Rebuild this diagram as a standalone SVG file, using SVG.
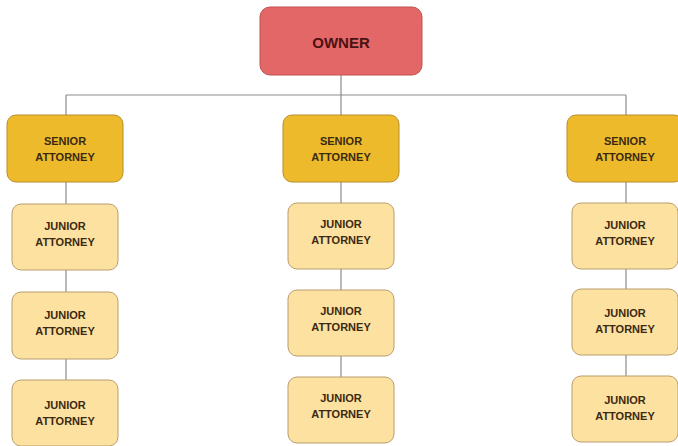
<svg xmlns="http://www.w3.org/2000/svg" width="678" height="446" viewBox="0 0 678 446">
  <style>
    .bg { fill: #ffffff; }
    .wire { stroke: #8c8c8c; stroke-width: 1.2; fill: none; }
    .owner rect { fill: #E36767; stroke: #C25050; stroke-width: 1; }
    .senior rect { fill: #EDBA2C; stroke: #B88E28; stroke-width: 1; }
    .junior rect { fill: #FDE1A0; stroke: #B89E6C; stroke-width: 1; }
    text { font-family: "Liberation Sans", Arial, sans-serif; font-weight: bold; text-anchor: middle; }
    .owner text { font-size: 15px; fill: #4A1212; }
    .senior text, .junior text { font-size: 11px; fill: #3A2A12; }
  </style>
  <rect class="bg" x="0" y="0" width="678" height="446"/>

  <g id="connectors">
    <path class="wire" d="M341,75 V95 M66,95 H626 M66,95 V115 M341,95 V115 M626,95 V115"/>
    <path class="wire" d="M66,182 V204 M66,270 V292 M66,359 V380"/>
    <path class="wire" d="M341,182 V203 M341,269 V290 M341,356 V377"/>
    <path class="wire" d="M626,182 V203 M626,269 V289 M626,355 V376"/>
  </g>

  <g id="owner" class="owner">
    <rect x="260" y="7" width="162" height="68" rx="10"/>
    <text x="341" y="48">OWNER</text>
  </g>

  <g id="senior-left" class="senior">
    <rect x="7" y="115" width="116" height="67" rx="9"/>
    <text x="65" y="145">SENIOR</text>
    <text x="65" y="161">ATTORNEY</text>
  </g>
  <g id="senior-middle" class="senior">
    <rect x="283" y="115" width="116" height="67" rx="9"/>
    <text x="341" y="145">SENIOR</text>
    <text x="341" y="161">ATTORNEY</text>
  </g>
  <g id="senior-right" class="senior">
    <rect x="567" y="115" width="116" height="67" rx="9"/>
    <text x="625" y="145">SENIOR</text>
    <text x="625" y="161">ATTORNEY</text>
  </g>

  <g id="junior-left-1" class="junior">
    <rect x="12" y="204" width="106" height="66" rx="9"/>
    <text x="65" y="230">JUNIOR</text>
    <text x="65" y="246">ATTORNEY</text>
  </g>
  <g id="junior-left-2" class="junior">
    <rect x="12" y="292" width="106" height="67" rx="9"/>
    <text x="65" y="319">JUNIOR</text>
    <text x="65" y="335">ATTORNEY</text>
  </g>
  <g id="junior-left-3" class="junior">
    <rect x="12" y="380" width="106" height="66" rx="9"/>
    <text x="65" y="409">JUNIOR</text>
    <text x="65" y="425">ATTORNEY</text>
  </g>

  <g id="junior-middle-1" class="junior">
    <rect x="288" y="203" width="106" height="66" rx="9"/>
    <text x="341" y="228">JUNIOR</text>
    <text x="341" y="244">ATTORNEY</text>
  </g>
  <g id="junior-middle-2" class="junior">
    <rect x="288" y="290" width="106" height="66" rx="9"/>
    <text x="341" y="315">JUNIOR</text>
    <text x="341" y="331">ATTORNEY</text>
  </g>
  <g id="junior-middle-3" class="junior">
    <rect x="288" y="377" width="106" height="66" rx="9"/>
    <text x="341" y="402">JUNIOR</text>
    <text x="341" y="418">ATTORNEY</text>
  </g>

  <g id="junior-right-1" class="junior">
    <rect x="572" y="203" width="106" height="66" rx="9"/>
    <text x="625" y="229">JUNIOR</text>
    <text x="625" y="245">ATTORNEY</text>
  </g>
  <g id="junior-right-2" class="junior">
    <rect x="572" y="289" width="106" height="66" rx="9"/>
    <text x="625" y="317">JUNIOR</text>
    <text x="625" y="333">ATTORNEY</text>
  </g>
  <g id="junior-right-3" class="junior">
    <rect x="572" y="376" width="106" height="66" rx="9"/>
    <text x="625" y="404">JUNIOR</text>
    <text x="625" y="420">ATTORNEY</text>
  </g>
</svg>
